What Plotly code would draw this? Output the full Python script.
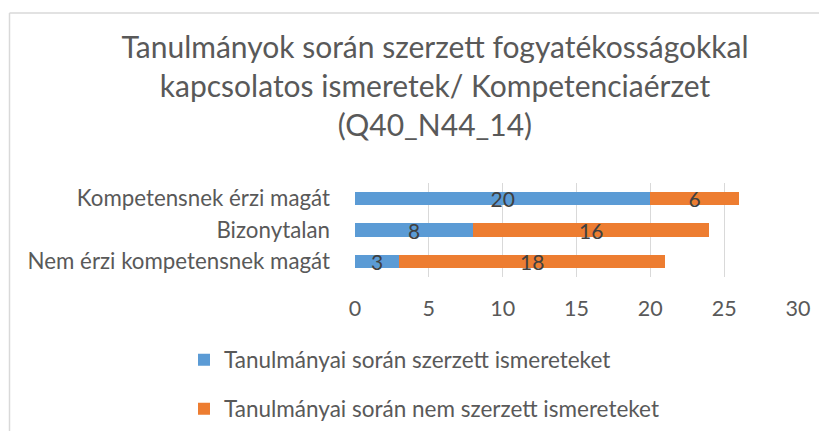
import plotly.graph_objects as go

categories = ["Kompetensnek érzi magát", "Bizonytalan", "Nem érzi kompetensnek magát"]
acquired = [20, 8, 3]
not_acquired = [6, 16, 18]
series_names = ["Tanulmányai során szerzett ismereteket", "Tanulmányai során nem szerzett ismereteket"]
x_ticks = [0, 5, 10, 15, 20, 25, 30]
title_lines = ["Tanulmányok során szerzett fogyatékosságokkal", "kapcsolatos ismeretek/ Kompetenciaérzet", "(Q40_N44_14)"]

FONT = "Lato"
GRAY = "#595959"
OFF = 8  # page body margin
W, H = 827 - OFF, 431 - OFF
ML, MR, MT, MB = 355 - OFF, 827 - 798, 183 - OFF, 431 - 277
PW, PH = W - ML - MR, H - MT - MB

def px2x(px):
    return (px - OFF - ML) / PW

def py2y(py):
    return (H - MB - (py - OFF)) / PH

fig = go.Figure()
fig.add_trace(go.Bar(
    y=categories, x=acquired, orientation="h", name=series_names[0],
    marker=dict(color="#5B9BD5", line=dict(width=0)),
    text=acquired, textposition="inside", insidetextanchor="middle",
    constraintext="none", textangle=0,
    textfont=dict(family=FONT, size=21, color="#404040"),
    legend="legend", hoverinfo="skip",
))
fig.add_trace(go.Bar(
    y=categories, x=not_acquired, orientation="h", name=series_names[1],
    marker=dict(color="#ED7D31", line=dict(width=0)),
    text=not_acquired, textposition="inside", insidetextanchor="middle",
    constraintext="none", textangle=0,
    textfont=dict(family=FONT, size=21, color="#404040"),
    legend="legend2", hoverinfo="skip",
))

fig.update_layout(
    width=W, height=H,
    margin=dict(l=ML, r=MR, t=MT, b=MB, autoexpand=False),
    paper_bgcolor="white", plot_bgcolor="white",
    barmode="stack", bargap=0.58,
    font=dict(family=FONT, color=GRAY),
    title=dict(
        text="<br>".join(title_lines),
        x=(435 - OFF) / W, xanchor="center", xref="container",
        y=1 - 50 / H, yanchor="top", yref="container",
        font=dict(family=FONT, size=30, color=GRAY),
    ),
    xaxis=dict(
        range=[0, 30], tickvals=x_ticks, showgrid=True, gridcolor="#D9D9D9", gridwidth=1.3,
        zeroline=False, showline=False, ticks="", ticklabelstandoff=16,
        tickfont=dict(family=FONT, size=21.5, color=GRAY), fixedrange=True,
    ),
    yaxis=dict(
        autorange="reversed", showgrid=False, zeroline=False, showline=False,
        ticks="", ticklabelstandoff=24,
        tickfont=dict(family=FONT, size=22.3, color=GRAY), fixedrange=True,
    ),
    legend=dict(
        x=px2x(184), y=py2y(360), xanchor="left", yanchor="middle",
        font=dict(family=FONT, size=22.5, color=GRAY), bgcolor="rgba(0,0,0,0)",
    ),
    legend2=dict(
        x=px2x(184), y=py2y(409), xanchor="left", yanchor="middle",
        font=dict(family=FONT, size=22.5, color=GRAY), bgcolor="rgba(0,0,0,0)",
    ),
    showlegend=True,
    shapes=[
        dict(type="line", xref="paper", yref="paper", x0=px2x(9.5), x1=px2x(840), y0=py2y(13), y1=py2y(13),
             line=dict(color="#D9D9D9", width=1.5), layer="below"),
        dict(type="line", xref="paper", yref="paper", x0=px2x(9.5), x1=px2x(9.5), y0=py2y(13), y1=py2y(450),
             line=dict(color="#D9D9D9", width=1.5), layer="below"),
    ],
)

fig.write_html("out.html")
